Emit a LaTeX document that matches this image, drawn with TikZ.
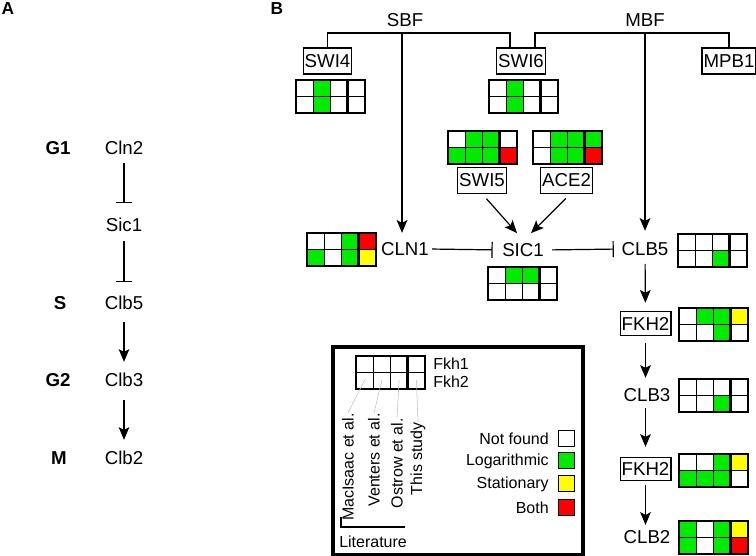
\documentclass[tikz,border=0pt]{standalone}
\usepackage{fontspec}
\setmainfont{Liberation Sans}
\usetikzlibrary{arrows.meta,calc}

\definecolor{cW}{RGB}{255,255,255}
\definecolor{cG}{RGB}{0,235,0}
\definecolor{cY}{RGB}{255,255,0}
\definecolor{cR}{RGB}{255,0,0}

% expression grid: top-left x, top-left y (downwards), 8 colours row by row
\newcommand{\exprgrid}[3]{%
  \foreach \clr [count=\k from 0] in {#3} {
    \pgfmathsetmacro{\gx}{#1+mod(\k,4)*17.25}
    \pgfmathsetmacro{\gy}{-#2-div(\k,4)*16.5}
    \filldraw[fill=\clr, draw=black, line width=0.8pt] (\gx,\gy) rectangle ++(17.25,-16.5);
  }
  \draw[line width=2.4pt] (#1+51.75,-#2) -- ++(0,-33);
}

\begin{document}
\begin{tikzpicture}[x=0.75pt,y=0.75pt,
  font=\fontsize{14}{16}\selectfont,
  gene/.style={draw, line width=0.8pt, minimum height=19.5pt, inner xsep=1.2pt},
  arr/.style={-{Stealth[length=9.5pt,width=8pt,inset=2pt]}, line width=0.9pt},
  inh/.style={-{Bar[width=12pt,line width=0.9pt]}, line width=0.9pt},
  phase/.style={font=\fontsize{14}{16}\selectfont\bfseries},
  legtext/.style={font=\fontsize{12}{14}\selectfont},
  key/.style={draw, line width=0.8pt, minimum size=12.5pt},
  leader/.style={black!25, line width=0.4pt}]
\tikzstyle{every node}+=[inner sep=0pt]
\useasboundingbox (0,0) rectangle (756,-556);

% panel A
\node[font=\fontsize{13}{15}\selectfont\bfseries] (pa) at (8,-9) {A};
\node[phase] (phg1) at (58,-148) {G1};
\node[phase] (phs) at (60,-303) {S};
\node[phase] (phg2) at (58,-380) {G2};
\node[phase] (phm) at (59,-458) {M};
\node (cln2) at (124,-148) {Cln2};
\node (sic1a) at (124,-225) {Sic1};
\node (clb5a) at (124,-303) {Clb5};
\node (clb3a) at (124,-380) {Clb3};
\node (clb2a) at (124,-458) {Clb2};
\draw[inh, shorten <=6pt, shorten >=11pt] (cln2) -- (sic1a);
\draw[inh, shorten <=7pt, shorten >=10.5pt] (sic1a) -- (clb5a);
\draw[arr, shorten <=9pt, shorten >=8.3pt] (clb5a) -- (clb3a);
\draw[arr, shorten <=9.5pt, shorten >=8.3pt] (clb3a) -- (clb2a);

% panel B
\node[font=\fontsize{13}{15}\selectfont\bfseries] (pb) at (277,-9) {B};
\node (sbftxt) at (405,-20) {SBF};
\node (mbftxt) at (645,-20) {MBF};
\coordinate (sbf) at (402,-33);
\coordinate (mbf) at (645,-33);
\node[gene] (swi4) at (327.5,-61) {SWI4};
\node[gene] (swi6) at (521,-61) {SWI6};
\node[gene] (mpb1) at (729,-61) {MPB1};
\node[gene, minimum height=19pt] (swi5) at (482,-180.5) {SWI5};
\node[gene, minimum height=19pt] (ace2) at (566.5,-180.5) {ACE2};
\node (cln1) at (405,-249) {CLN1};
\node (sic1) at (523,-250) {SIC1};
\node (clb5) at (645,-249) {CLB5};
\node[gene, minimum height=17.5pt] (fkh2a) at (645.5,-323.5) {FKH2};
\node (clb3) at (647,-395) {CLB3};
\node[gene, minimum height=17.5pt] (fkh2b) at (645.5,-469) {FKH2};
\node (clb2) at (647,-537.5) {CLB2};

\exprgrid{296}{80}{cW,cG,cW,cW,cW,cG,cW,cW}
\exprgrid{489}{80}{cW,cG,cW,cW,cW,cG,cW,cW}
\exprgrid{448}{131}{cW,cG,cG,cW,cG,cG,cG,cR}
\exprgrid{533}{131}{cW,cG,cG,cG,cW,cG,cG,cR}
\exprgrid{307}{233}{cW,cW,cG,cR,cG,cW,cG,cY}
\exprgrid{488}{267}{cW,cG,cG,cW,cW,cW,cW,cW}
\exprgrid{678}{234}{cW,cW,cW,cW,cW,cW,cG,cW}
\exprgrid{679}{308}{cW,cG,cG,cY,cW,cW,cG,cW}
\exprgrid{679}{379}{cW,cW,cW,cW,cW,cW,cG,cW}
\exprgrid{679}{454}{cW,cW,cG,cY,cG,cG,cG,cW}
\exprgrid{679}{521}{cG,cW,cG,cY,cG,cW,cG,cR}

\draw[line width=0.9pt] (swi4.north) |- (sbf) -| ([xshift=-8.2pt]swi6.north);
\draw[line width=0.9pt] ([xshift=10.5pt]swi6.north) |- (mbf) -| (mpb1.north);
\draw[arr, shorten >=7pt] (sbf) -- (sbf |- cln1.north);
\draw[arr, shorten >=8.5pt] (mbf) -- (clb5.north);
\draw[arr, shorten <=5pt] (swi5.south) -- ($(sic1.north)+(-6,10)$);
\draw[arr, shorten <=5pt] ($(ace2.south)+(4,0)$) -- ($(sic1.north)+(8,10)$);
\draw[inh, shorten <=2.3pt, shorten >=7pt] (cln1.east) -- (sic1.west);
\draw[inh, shorten <=6pt, shorten >=5.7pt] (sic1.east) -- (clb5.west);
\draw[arr, shorten <=6pt, shorten >=6.4pt] (clb5) -- (fkh2a);
\draw[arr, shorten <=5.6pt, shorten >=7.7pt] (fkh2a) -- (fkh2a |- clb3.north);
\draw[arr, shorten <=4.7pt, shorten >=7.5pt] (clb3.south -| fkh2b) -- (fkh2b);
\draw[arr, shorten <=3pt, shorten >=4.3pt] (fkh2b) -- (fkh2b |- clb2.north);

% legend
\draw[line width=2.4pt] (333,-347) rectangle (583,-555);
\exprgrid{356}{356}{cW,cW,cW,cW,cW,cW,cW,cW}
\node[legtext, anchor=west] (fkh1l) at (433,-364) {Fkh1};
\node[legtext, anchor=west] (fkh2l) at (433,-382) {Fkh2};
\node[legtext, rotate=90, anchor=east] (lit1) at (348,-413) {MacIsaac et al.};
\node[legtext, rotate=90, anchor=east] (lit2) at (374,-413) {Venters et al.};
\node[legtext, rotate=90, anchor=east] (lit3) at (397,-418) {Ostrow et al.};
\node[legtext, rotate=90, anchor=east] (lit4) at (418,-422) {This study};
\coordinate (col1) at (364.6,-380);
\coordinate (col2) at (381.9,-380);
\coordinate (col3) at (399.1,-380);
\coordinate (col4) at (416.4,-380);
\draw[leader] (col1) -- (lit1.east);
\draw[leader] (col2) -- (lit2.east);
\draw[leader] (col3) -- (lit3.east);
\draw[leader] (col4) -- (lit4.east);
\draw[line width=0.9pt] (341,-517) |- (405,-527);
\node[legtext, anchor=west] (litl) at (339,-542) {Literature};

\node[key, fill=cW] (keynf) at (566.5,-438.5) {};
\node[key, fill=cG] (keylg) at (566.5,-460.5) {};
\node[key, fill=cY] (keyst) at (566.5,-483.5) {};
\node[key, fill=cR] (keybo) at (566.5,-507.5) {};
\node[legtext, anchor=east] (nf) at (549,-439) {Not found};
\node[legtext, anchor=east] (lg) at (549,-461) {Logarithmic};
\node[legtext, anchor=east] (st) at (549,-484) {Stationary};
\node[legtext, anchor=east] (bo) at (549,-508) {Both};
\end{tikzpicture}
\end{document}
